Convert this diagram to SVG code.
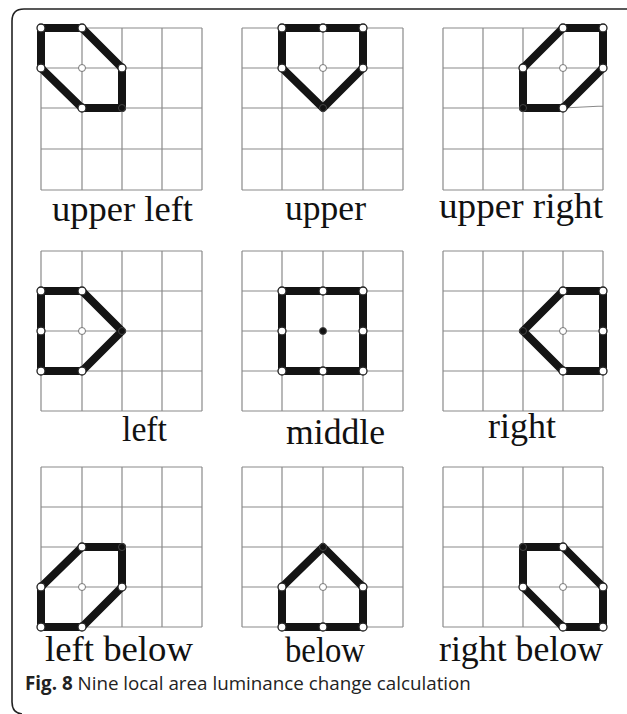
<svg xmlns="http://www.w3.org/2000/svg" width="627" height="714" viewBox="0 0 627 714">
<style>
.grid{fill:none;stroke:#8a8a8a;stroke-width:1.2}
.poly{fill:none;stroke:#141414;stroke-width:8;stroke-linejoin:round;stroke-linecap:round}
.wc{fill:#fff;stroke:#222;stroke-width:1.3}
.cc{fill:#fff;stroke:#777;stroke-width:1}
.bc{fill:#111;stroke:#444;stroke-width:1}
.lbl{font-family:"Liberation Serif","Times New Roman",serif;font-size:36px;fill:#111}
.cap{font-family:"Open Sans","Noto Sans",sans-serif;font-size:18.8px;fill:#222}
.border{fill:none;stroke:#222;stroke-width:1.6}
</style>
<rect width="627" height="714" fill="#fff"/>
<path class="border" d="M627,9 H24 Q12,9 12,21 V702 Q12,713 22,714"/>

<g id="panel-upper-left">
<path class="grid" d="M41,28V190M82,28V190M122,28V190M162,28V190M202,28V190M41,28H202M41,68H202M41,108H202M41,149H202M41,190H202"/>
<path class="poly" d="M41,28L82,28L122,68L122,108L82,108L41,68Z"/>
<circle class="wc" cx="41" cy="28" r="4"/><circle class="wc" cx="82" cy="28" r="4"/><circle class="wc" cx="122" cy="68" r="4"/><circle class="wc" cx="82" cy="108" r="4"/><circle class="wc" cx="41" cy="68" r="4"/>
<circle class="cc" cx="82" cy="68" r="3.5"/><circle class="bc" cx="122" cy="108" r="3.5"/>
<text class="lbl" x="52" y="221" textLength="141" lengthAdjust="spacingAndGlyphs">upper left</text>
</g>

<g id="panel-upper">
<path class="grid" d="M242,28V190M282,28V190M323,28V190M363,28V190M403,28V190M242,28H403M242,68H403M242,108H403M242,149H403M242,190H403"/>
<path class="poly" d="M282,28L363,28L363,68L323,108L282,68Z"/>
<circle class="wc" cx="282" cy="28" r="4"/><circle class="wc" cx="323" cy="28" r="4"/><circle class="wc" cx="363" cy="28" r="4"/><circle class="wc" cx="363" cy="68" r="4"/><circle class="wc" cx="282" cy="68" r="4"/>
<circle class="cc" cx="323" cy="68" r="3.5"/><circle class="bc" cx="323" cy="108" r="3.5"/>
<text class="lbl" x="285" y="220" textLength="81" lengthAdjust="spacingAndGlyphs">upper</text>
</g>

<g id="panel-upper-right">
<path class="grid" d="M443,28V190M483,28V190M523,28V190M563,28V190M603,28V190M443,28H603M443,68H603M443,108H563L603,106M443,149H603M443,190H603"/>
<path class="poly" d="M563,28L603,28L603,68L563,108L523,108L523,68Z"/>
<circle class="wc" cx="563" cy="28" r="4"/><circle class="wc" cx="603" cy="28" r="4"/><circle class="wc" cx="603" cy="68" r="4"/><circle class="wc" cx="563" cy="108" r="4"/><circle class="wc" cx="523" cy="68" r="4"/>
<circle class="cc" cx="563" cy="68" r="3.5"/><circle class="bc" cx="523" cy="108" r="3.5"/>
<text class="lbl" x="439" y="218" textLength="164" lengthAdjust="spacingAndGlyphs">upper right</text>
</g>

<g id="panel-left">
<path class="grid" d="M41,251V411M82,251V411M122,251V411M162,251V411M202,251V411M41,251H202M41,291H202M41,331H202M41,371H202M41,411H202"/>
<path class="poly" d="M41,291L82,291L122,331L82,371L41,371Z"/>
<circle class="wc" cx="41" cy="291" r="4"/><circle class="wc" cx="82" cy="291" r="4"/><circle class="wc" cx="41" cy="331" r="4"/><circle class="wc" cx="41" cy="371" r="4"/><circle class="wc" cx="82" cy="371" r="4"/>
<circle class="cc" cx="82" cy="331" r="3.5"/><circle class="bc" cx="122" cy="331" r="3.5"/>
<text class="lbl" x="122" y="441" textLength="45" lengthAdjust="spacingAndGlyphs">left</text>
</g>

<g id="panel-middle">
<path class="grid" d="M242,251V411M282,251V411M323,251V411M363,251V411M403,251V411M242,251H403M242,291H403M242,331H403M242,371H403M242,411H403"/>
<path class="poly" d="M282,291L363,291L363,371L282,371Z"/>
<circle class="wc" cx="282" cy="291" r="4"/><circle class="wc" cx="323" cy="291" r="4"/><circle class="wc" cx="363" cy="291" r="4"/><circle class="wc" cx="363" cy="331" r="4"/><circle class="wc" cx="363" cy="371" r="4"/><circle class="wc" cx="323" cy="371" r="4"/><circle class="wc" cx="282" cy="371" r="4"/><circle class="wc" cx="282" cy="331" r="4"/>
<circle class="bc" cx="323" cy="331" r="3.5"/>
<text class="lbl" x="286" y="444" textLength="99" lengthAdjust="spacingAndGlyphs">middle</text>
</g>

<g id="panel-right">
<path class="grid" d="M443,251V411M483,251V411M523,251V411M563,251V411M603,251V411M443,251H603M443,291H603M443,331H603M443,371H603M443,411H603"/>
<path class="poly" d="M563,291L603,291L603,371L563,371L523,331Z"/>
<circle class="wc" cx="563" cy="291" r="4"/><circle class="wc" cx="603" cy="291" r="4"/><circle class="wc" cx="603" cy="331" r="4"/><circle class="wc" cx="603" cy="371" r="4"/><circle class="wc" cx="563" cy="371" r="4"/>
<circle class="cc" cx="563" cy="331" r="3.5"/><circle class="bc" cx="523" cy="331" r="3.5"/>
<text class="lbl" x="488" y="438" textLength="68" lengthAdjust="spacingAndGlyphs">right</text>
</g>

<g id="panel-left-below">
<path class="grid" d="M41,467V627M82,467V627M122,467V627M162,467V627M202,467V627M41,467H202M41,507H202M41,547H202M41,587H202M41,627H202"/>
<path class="poly" d="M82,547L122,547L122,587L82,627L41,627L41,587Z"/>
<circle class="wc" cx="82" cy="547" r="4"/><circle class="wc" cx="122" cy="587" r="4"/><circle class="wc" cx="82" cy="627" r="4"/><circle class="wc" cx="41" cy="627" r="4"/><circle class="wc" cx="41" cy="587" r="4"/>
<circle class="cc" cx="82" cy="587" r="3.5"/><circle class="bc" cx="122" cy="547" r="3.5"/>
<text class="lbl" x="45" y="661" textLength="148" lengthAdjust="spacingAndGlyphs">left below</text>
</g>

<g id="panel-below">
<path class="grid" d="M242,467V627M282,467V627M323,467V627M363,467V627M403,467V627M242,467H403M242,507H403M242,547H403M242,587H403M242,627H403"/>
<path class="poly" d="M323,547L363,587L363,627L282,627L282,587Z"/>
<circle class="wc" cx="282" cy="587" r="4"/><circle class="wc" cx="363" cy="587" r="4"/><circle class="wc" cx="282" cy="627" r="4"/><circle class="wc" cx="323" cy="627" r="4"/><circle class="wc" cx="363" cy="627" r="4"/>
<circle class="cc" cx="323" cy="587" r="3.5"/><circle class="bc" cx="323" cy="547" r="3.5"/>
<text class="lbl" x="285" y="662" textLength="80" lengthAdjust="spacingAndGlyphs">below</text>
</g>

<g id="panel-right-below">
<path class="grid" d="M443,467V627M483,467V627M523,467V627M563,467V627M603,467V627M443,467H603M443,507H603M443,547H603M443,587H603M443,627H603"/>
<path class="poly" d="M523,547L563,547L603,587L603,627L563,627L523,587Z"/>
<circle class="wc" cx="563" cy="547" r="4"/><circle class="wc" cx="603" cy="587" r="4"/><circle class="wc" cx="603" cy="627" r="4"/><circle class="wc" cx="563" cy="627" r="4"/><circle class="wc" cx="523" cy="587" r="4"/>
<circle class="cc" cx="563" cy="587" r="3.5"/><circle class="bc" cx="523" cy="547" r="3.5"/>
<text class="lbl" x="439" y="661" textLength="164" lengthAdjust="spacingAndGlyphs">right below</text>
</g>

<g id="caption">
<text class="cap" x="25" y="690"><tspan font-weight="bold">Fig. 8</tspan> Nine local area luminance change calculation</text>
</g>
<g id="connectors"/>
</svg>
